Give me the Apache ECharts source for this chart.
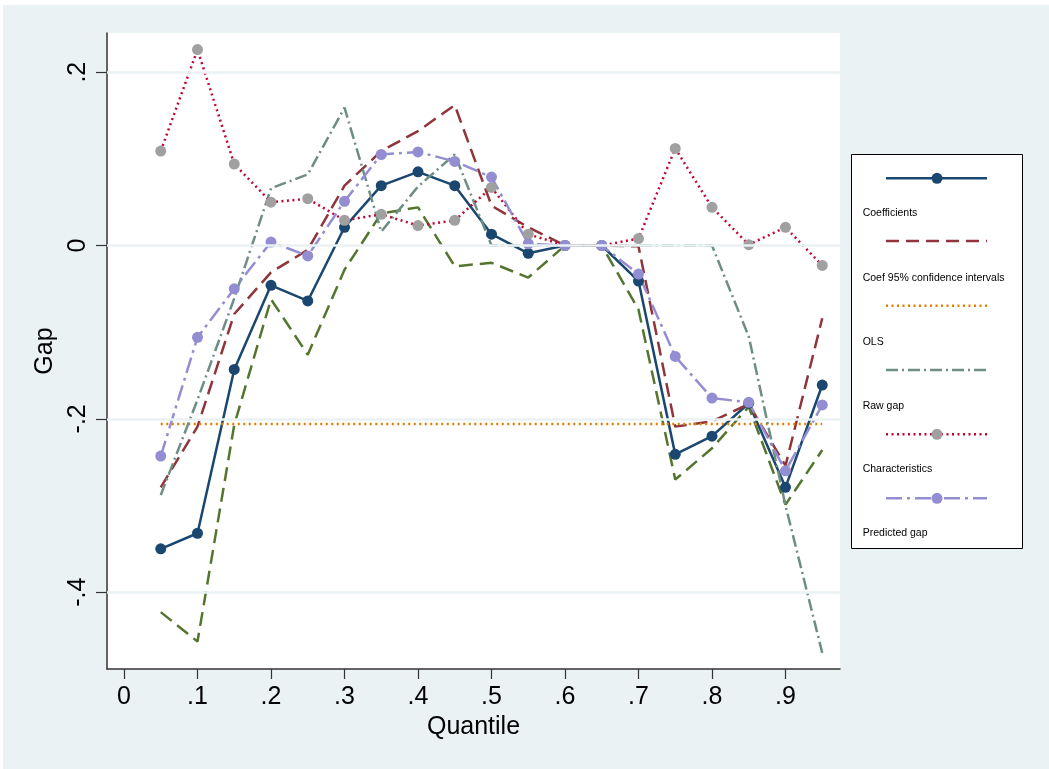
<!DOCTYPE html>
<html>
<head>
<meta charset="utf-8">
<script src="https://cdn.jsdelivr.net/npm/echarts@6/dist/echarts.min.js"></script>
<style>
html,body{margin:0;padding:0;background:#fff;}
#bg{position:absolute;left:3px;top:5px;width:1046px;height:764px;background:#EAF2F3;}
#chart{position:absolute;left:0;top:0;width:1049px;height:769px;}
</style>
</head>
<body>
<div id="bg"></div>
<div id="chart"></div>
<script>
const quantiles = [0.05,0.10,0.15,0.20,0.25,0.30,0.35,0.40,0.45,0.50,0.55,0.60,0.65,0.70,0.75,0.80,0.85,0.90,0.95];
const coefficients = [-0.350,-0.332,-0.143,-0.046,-0.064,0.021,0.069,0.085,0.069,0.013,-0.009,0,0,-0.041,-0.241,-0.220,-0.182,-0.279,-0.161];
const ciUpper = [-0.279,-0.209,-0.079,-0.031,-0.005,0.069,0.109,0.132,0.162,0.046,0.021,0,0,-0.001,-0.209,-0.203,-0.183,-0.254,-0.084];
const ciLower = [-0.423,-0.457,-0.207,-0.062,-0.126,-0.028,0.037,0.044,-0.024,-0.020,-0.037,0,0,-0.074,-0.270,-0.234,-0.186,-0.299,-0.236];
const ols = [-0.206,-0.206,-0.206,-0.206,-0.206,-0.206,-0.206,-0.206,-0.206,-0.206,-0.206,-0.206,-0.206,-0.206,-0.206,-0.206,-0.206,-0.206,-0.206];
const rawGap = [-0.288,-0.178,-0.061,0.066,0.082,0.159,0.016,0.068,0.105,0,0,0,0,0,0,0,-0.105,-0.300,-0.470];
const characteristics = [0.109,0.226,0.094,0.050,0.054,0.029,0.036,0.023,0.029,0.067,0.013,0,0,0.008,0.112,0.044,0.001,0.021,-0.023];
const predictedGap = [-0.243,-0.106,-0.050,0.004,-0.012,0.051,0.105,0.108,0.097,0.079,0.002,0,0,-0.033,-0.128,-0.176,-0.181,-0.260,-0.184];
const xTicks = [0,0.1,0.2,0.3,0.4,0.5,0.6,0.7,0.8,0.9];
const yTicks = [-0.4,-0.2,0,0.2];
const legendLabels = ["Coefficients","Coef 95% confidence intervals","OLS","Raw gap","Characteristics","Predicted gap"];

const C = {navy:'#1a476f', maroon:'#90353b', green:'#55752f', orange:'#e37e00', teal:'#6e8e84', cran:'#c10534', lav:'#938dd2', gray:'#a0a0a0'};
const FONT = '"Liberation Sans", Arial, sans-serif';
const pairs = arr => quantiles.map((q,i)=>[q,arr[i]]);
const fmt = v => { if (Math.abs(v) < 1e-9) return '0'; let s = (Math.round(v*10)/10).toString(); return s.replace('0.', '.'); };

const chart = echarts.init(document.getElementById('chart'), null, {renderer:'canvas'});

function lineSeries(name, arr, color, type, width, marker, markerColor) {
  return {
    name, type:'line', data: pairs(arr), z: 3,
    showSymbol: !!marker, symbol: marker ? 'circle' : 'none', symbolSize: 11,
    itemStyle: {color: markerColor || color},
    lineStyle: {color, width, type},
    emphasis: {disabled: true}, animation: false
  };
}

// legend graphics
const lg = [];
lg.push({type:'rect', shape:{x:851.5,y:154.5,width:171,height:394}, style:{fill:'#fff', stroke:'#000', lineWidth:1}});
const keyY = [178.3,241,305.7,370,434.3,498.3];
const labY = [213.3,277.7,341.7,406,469.3,533.3];
const keys = [
  {color:C.navy, dash:null, marker:C.navy},
  {color:C.maroon, dash:[13,7], marker:null},
  {color:C.orange, dash:[2,3.5], marker:null},
  {color:C.teal, dash:[12,4,2,4], marker:null},
  {color:C.cran, dash:[2,3.5], marker:C.gray},
  {color:C.lav, dash:[16,5,3,5], marker:C.lav}
];
keys.forEach((k,i)=>{
  lg.push({type:'line', shape:{x1:886,y1:keyY[i],x2:987,y2:keyY[i]}, style:{stroke:k.color, lineWidth:2.5, lineDash:k.dash}});
  if (k.marker) lg.push({type:'circle', shape:{cx:937,cy:keyY[i],r:5.5}, style:{fill:k.marker}});
  lg.push({type:'text', x:862.7, y:labY[i], style:{text:legendLabels[i], fill:'#000', font:'10.5px '+FONT, textVerticalAlign:'middle', textAlign:'left'}});
});

const option = {
  backgroundColor: 'transparent',
  animation: false,
  grid: {left:107, right:209, top:33, bottom:100, show:true, backgroundColor:'#fff', borderWidth:0},
  xAxis: {
    type:'value', min:-0.02313, max:0.97415,
    name:'Quantile', nameLocation:'middle', nameGap:44,
    nameTextStyle:{fontFamily:FONT, fontSize:25, color:'#000'},
    axisLine:{show:true, onZero:false, lineStyle:{color:'#333', width:1.5}},
    axisTick:{show:true, length:10, customValues:xTicks, lineStyle:{color:'#333', width:1.2}},
    axisLabel:{customValues:xTicks, formatter:fmt, fontFamily:FONT, fontSize:25, color:'#000', margin:16},
    splitLine:{show:false}
  },
  yAxis: {
    type:'value', min:-0.48864, max:0.24518,
    name:'Gap', nameLocation:'middle', nameGap:48, nameRotate:90,
    nameTextStyle:{fontFamily:FONT, fontSize:25, color:'#000'},
    axisLine:{show:true, onZero:false, lineStyle:{color:'#333', width:1.5}},
    axisTick:{show:true, length:11, customValues:yTicks, lineStyle:{color:'#333', width:1.2}},
    axisLabel:{customValues:yTicks, formatter:fmt, rotate:90, fontFamily:FONT, fontSize:25, color:'#000', margin:16},
    splitLine:{show:false}
  },
  graphic: lg,
  series: [
    {
      name:'grid', type:'line', data:[], z:1, silent:true,
      markLine:{silent:true, symbol:'none', label:{show:false}, animation:false,
        lineStyle:{color:'#EAF2F3', width:2.5, type:'solid'},
        data: yTicks.map(v=>({yAxis:v}))}
    },
    lineSeries('Coefficients', coefficients, C.navy, 'solid', 2.5, true),
    lineSeries('CI upper', ciUpper, C.maroon, [14,7], 2.5, false),
    lineSeries('CI lower', ciLower, C.green, [14,7], 2.5, false),
    lineSeries('OLS', ols, C.orange, [2,3.5], 2.5, false),
    lineSeries('Raw gap', rawGap, C.teal, [12,4,2,4], 2.5, false),
    lineSeries('Characteristics', characteristics, C.cran, [2,3.5], 2.5, true, C.gray),
    lineSeries('Predicted gap', predictedGap, C.lav, [16,5,3,5], 2.5, true)
  ]
};
chart.setOption(option);
</script>
</body>
</html>
